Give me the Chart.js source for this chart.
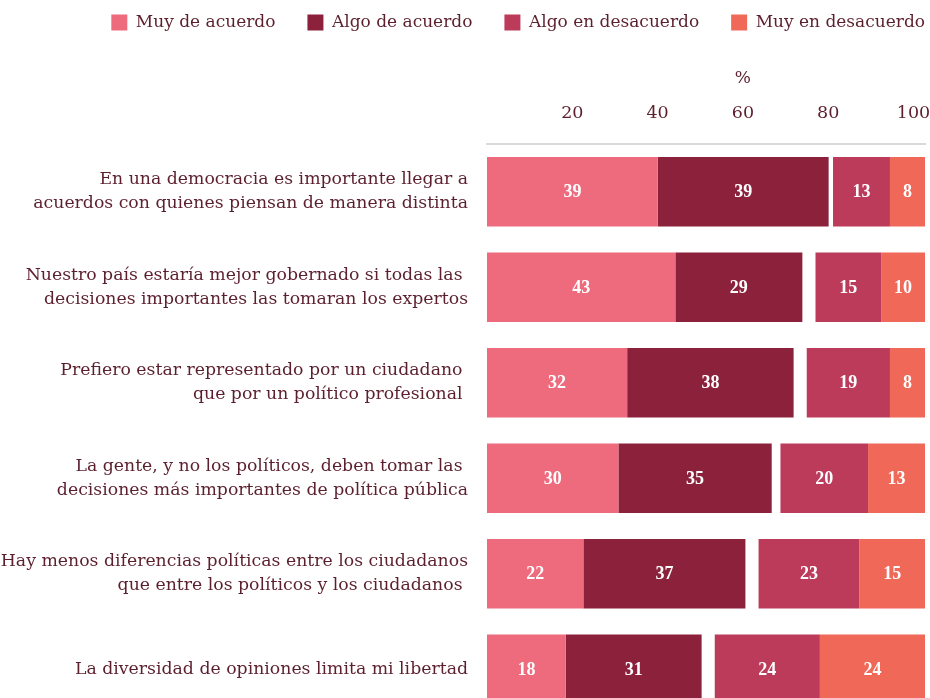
<!DOCTYPE html>
<html>
<head>
<meta charset="utf-8">
<script src="https://cdn.jsdelivr.net/npm/chart.js@4/dist/chart.umd.min.js"></script>
<style>
html,body{margin:0;padding:0;background:#fff;width:930px;height:698px;overflow:hidden;}
#wrap{position:relative;width:930px;height:717px;}
</style>
</head>
<body>
<div id="wrap"><canvas id="c"></canvas></div>
<script>
// ---- data ----
const categories = [
  ["En una democracia es importante llegar a", "acuerdos con quienes piensan de manera distinta"],
  ["Nuestro país estaría mejor gobernado si todas las ", "decisiones importantes las tomaran los expertos"],
  ["Prefiero estar representado por un ciudadano ", "que por un político profesional "],
  ["La gente, y no los políticos, deben tomar las ", "decisiones más importantes de política pública"],
  ["Hay menos diferencias políticas entre los ciudadanos", "que entre los políticos y los ciudadanos "],
  "La diversidad de opiniones limita mi libertad"
];
const muyDeAcuerdo      = [39, 43, 32, 30, 22, 18];
const algoDeAcuerdo     = [39, 29, 38, 35, 37, 31];
const sinRespuesta      = [1, 3, 3, 2, 3, 3];   // unlabelled gap
const algoEnDesacuerdo  = [13, 15, 19, 20, 23, 24];
const muyEnDesacuerdo   = [8, 10, 8, 13, 15, 24];
const tickValues = [20, 40, 60, 80, 100];
const axisUnit = "%";

const TEXT = "#5c1f2e";
const LABEL_FONT = "'DejaVu Serif', serif";

const valueLabels = {
  id: 'valueLabels',
  afterDatasetsDraw(chart) {
    const ctx = chart.ctx;
    ctx.save();
    ctx.fillStyle = '#ffffff';
    ctx.font = "bold 18px 'Liberation Serif', serif";
    ctx.textAlign = 'center';
    ctx.textBaseline = 'middle';
    chart.data.datasets.forEach((ds, i) => {
      if (ds.gap) return;
      const meta = chart.getDatasetMeta(i);
      meta.data.forEach((el, j) => {
        const v = ds.data[j];
        const cx = (el.x + el.base) / 2;
        ctx.fillText(String(v), cx, el.y + 1);
      });
    });
    // unit label above the 60 tick
    const s = chart.scales.x2;
    ctx.fillStyle = TEXT;
    ctx.font = "17px " + LABEL_FONT;
    ctx.fillText(axisUnit, s.getPixelForValue(60), 79);
    ctx.restore();
  }
};

const legendShift = {
  id: 'legendShift',
  afterUpdate(chart) {
    const lg = chart.legend;
    if (!lg) return;
    const p = lg.options.labels.padding;
    lg.right += p;
    lg.left += p;
    lg.top -= 18;
  }
};

new Chart(document.getElementById('c'), {
  type: 'bar',
  data: {
    labels: categories,
    datasets: [
      { label: 'Muy de acuerdo', data: muyDeAcuerdo, backgroundColor: '#ee6b7e' },
      { label: 'Algo de acuerdo', data: algoDeAcuerdo, backgroundColor: '#8b213b' },
      { label: 'NS/NC', data: sinRespuesta, backgroundColor: 'rgba(0,0,0,0)', gap: true },
      { label: 'Algo en desacuerdo', data: algoEnDesacuerdo, backgroundColor: '#bc3b5b' },
      { label: 'Muy en desacuerdo', data: muyEnDesacuerdo, backgroundColor: '#ef6858' }
    ]
  },
  options: {
    indexAxis: 'y',
    responsive: true,
    maintainAspectRatio: false,
    animation: false,
    layout: { padding: { left: 0, right: 5, top: 0, bottom: 0 } },
    datasets: { bar: { barPercentage: 0.73, categoryPercentage: 1, borderWidth: 0 } },
    scales: {
      x: { display: false, stacked: true, min: 0, max: 100 },
      x2: {
        type: 'linear', position: 'top', min: 0, max: 102.7,
        grid: { display: true, drawOnChartArea: false, drawTicks: false },
        border: { display: true, color: '#d9d9d9', width: 2 },
        afterBuildTicks: s => { s.ticks = tickValues.map(v => ({ value: v })); },
        ticks: { color: TEXT, font: { family: LABEL_FONT, size: 17.5 }, padding: 20, maxRotation: 0 },
        afterFit: s => {
          const lh = s.chart.legend ? s.chart.legend.height : 60;
          s.height = 144 - lh;
          s.paddingLeft = 0; s.paddingRight = 0;
        }
      },
      y: {
        stacked: true,
        grid: { display: false, drawTicks: false },
        border: { display: false },
        ticks: { color: TEXT, font: { family: LABEL_FONT, size: 17.3, lineHeight: 1.39 }, padding: 19 },
        afterFit: s => { s.width = 487; s.paddingTop = 0; s.paddingBottom = 0; }
      }
    },
    plugins: {
      legend: {
        position: 'top', align: 'end',
        labels: {
          color: TEXT, font: { family: LABEL_FONT, size: 17 },
          boxWidth: 16, boxHeight: 16, padding: 32,
          filter: item => item.text !== 'NS/NC'
        }
      },
      tooltip: { enabled: false }
    }
  },
  plugins: [valueLabels, legendShift]
});
</script>
</body>
</html>
